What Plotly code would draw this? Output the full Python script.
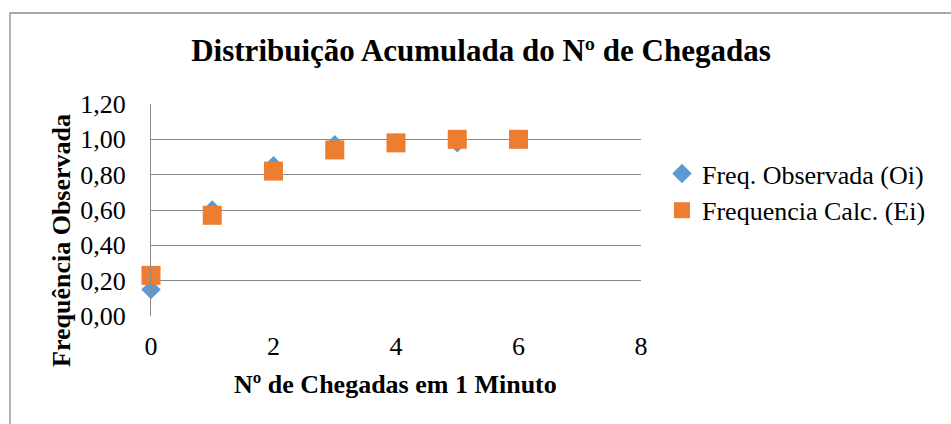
import plotly.graph_objects as go

# Number of arrivals per minute and cumulative frequencies
chegadas = [0, 1, 2, 3, 4, 5, 6]
freq_observada = [0.15, 0.60, 0.85, 0.97, 0.98, 0.98, 1.00]
freq_calculada = [0.23, 0.57, 0.82, 0.94, 0.98, 1.00, 1.00]

y_ticks = [0, 0.2, 0.4, 0.6, 0.8, 1.0, 1.2]
x_ticks = [0, 2, 4, 6, 8]

SERIF = "Liberation Serif"
BLUE = "#5B9BD5"
ORANGE = "#ED7D31"
GRID = "#8a8a8a"

W, H = 951, 424
L, R, T, B = 151, 310, 104, 108
pw, ph = W - L - R, H - T - B


def px_x(p):
    return (p - L) / pw


def px_y(p):
    return (H - B - p) / ph


fig = go.Figure()
fig.add_trace(go.Scatter(
    x=chegadas, y=freq_observada, mode="markers", name="Freq. Observada (Oi)",
    marker=dict(symbol="diamond", size=15, color=BLUE, line=dict(width=0)),
    cliponaxis=False,
))
fig.add_trace(go.Scatter(
    x=chegadas, y=freq_calculada, mode="markers", name="Frequencia Calc. (Ei)",
    marker=dict(symbol="square", size=19, color=ORANGE, line=dict(width=0)),
    cliponaxis=False,
))

fig.update_layout(
    width=W, height=H,
    margin=dict(l=L, r=R, t=T, b=B, pad=0),
    paper_bgcolor="white", plot_bgcolor="white",
    separators=",.",
    font=dict(family=SERIF, color="black", size=26),
    title=dict(
        text="Distribuição Acumulada do Nº de Chegadas",
        font=dict(family=SERIF, size=31, weight="bold", color="black"),
        x=px_x(481), xref="paper", xanchor="center",
        y=1 - 50 / H, yref="container", yanchor="middle",
    ),
    xaxis=dict(
        range=[0, 8], tickvals=x_ticks, ticktext=[str(v) for v in x_ticks],
        showgrid=False, zeroline=False, showline=False, ticks="",
        tickfont=dict(family=SERIF, size=26), ticklabelstandoff=12,
    ),
    yaxis=dict(
        range=[0, 1.2], tickvals=y_ticks, tickformat=".2f",
        showgrid=True, gridcolor=GRID, gridwidth=1,
        zeroline=False, showline=True, linecolor=GRID, linewidth=1, ticks="",
        tickfont=dict(family=SERIF, size=26), ticklabelstandoff=19,
    ),
    legend=dict(
        x=px_x(662), y=px_y(150), xanchor="left", yanchor="top",
        font=dict(family=SERIF, size=26), itemwidth=30,
        bgcolor="rgba(0,0,0,0)", tracegroupgap=0,
    ),
    showlegend=True,
)

# Axis titles
fig.add_annotation(
    text="Nº de Chegadas em 1 Minuto", xref="paper", yref="paper",
    x=px_x(395), y=px_y(384), xanchor="center", yanchor="middle",
    showarrow=False, font=dict(family=SERIF, size=26, weight="bold"),
)
fig.add_annotation(
    text="Frequência Observada", xref="paper", yref="paper",
    x=px_x(61), y=px_y(241), xanchor="center", yanchor="middle", textangle=-90,
    showarrow=False, font=dict(family=SERIF, size=26, weight="bold"),
)

# Chart frame
fig.add_shape(
    type="rect", xref="paper", yref="paper",
    x0=px_x(10), x1=px_x(960), y0=px_y(440), y1=px_y(13),
    line=dict(color="#8c8c8c", width=1.3), fillcolor="rgba(0,0,0,0)", layer="below",
)

fig.write_html("out.html")
